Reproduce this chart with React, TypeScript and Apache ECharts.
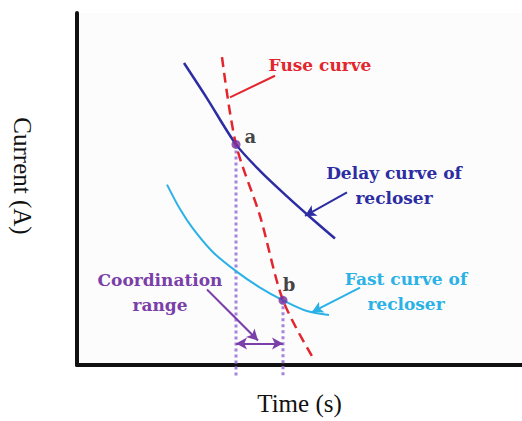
import React, { useEffect, useRef } from "react";
import * as echarts from "echarts";

// Schematic coordinates (time on x, current on y)
const delayCurve = [[107, 308], [130, 272], [159, 225], [183, 198], [210, 172], [233, 151], [258, 129]];
const fastCurve = [[90, 184], [103, 159], [116, 139], [136, 115], [160, 95], [183, 79], [206, 66], [230, 55], [252, 51]];
const fuseCurve = [[145, 314], [159, 225], [183, 152], [206, 66], [235, 9]];
const pointA = [159, 225];
const pointB = [206, 66];
const dropA = [[159, 225], [159, -13]];
const dropB = [[206, 66], [206, -13]];
const rangeArrow = [[159, 22], [206, 22]];
const fusePointer = [[198, 295], [153, 273]];
const delayPointer = [[270, 176], [228, 152]];
const fastPointer = [[283, 79], [235, 54]];
const coordPointer = [[130, 77], [181, 25]];
const xRange = [0, 445];
const yRange = [0, 359];
const axisNames = ["Time (s)", "Current (A)"];
const labels = ["Fuse curve", "Delay curve of\nrecloser", "Fast curve of\nrecloser", "Coordination\nrange"];

const RED = "#e3262d";
const BLUE = "#2d2da3";
const CYAN = "#2ab2e6";
const PURPLE = "#7a3fa8";
const DOT = "#a584dc";
const SERIF = "Liberation Serif";
const BOLD_SERIF = "DejaVu Serif";

function pointer(name: string, pts: number[][], color: string, both = false, head = true) {
  return {
    name,
    type: "line",
    data: [],
    silent: true,
    markLine: {
      silent: true,
      animation: false,
      label: { show: false },
      symbolSize: [9, 11],
      lineStyle: { color, width: 2, type: "solid" },
      itemStyle: { color },
      emphasis: { disabled: true },
      data: [
        [
          { coord: pts[0], symbol: both ? "arrow" : "none" },
          { coord: pts[1], symbol: head ? "arrow" : "none" },
        ],
      ],
    },
  };
}

function note(text: string, x: number, y: number, fill: string) {
  return {
    type: "text",
    x,
    y,
    silent: true,
    style: {
      text,
      fill,
      fontFamily: BOLD_SERIF,
      fontWeight: "bold",
      fontSize: 17,
      lineHeight: 25,
      align: "center",
      verticalAlign: "middle",
    },
  };
}

export default function App() {
  const ref = useRef<HTMLDivElement>(null);
  useEffect(() => {
    if (!ref.current) return;
    const chart = echarts.init(ref.current, undefined, { renderer: "svg" });
    chart.setOption({
      animation: false,
      backgroundColor: "#ffffff",
      grid: { left: 77, right: 0, top: 13, bottom: 49, show: true, backgroundColor: "#fcfcfc", borderWidth: 0 },
      xAxis: {
        type: "value",
        min: xRange[0],
        max: xRange[1],
        name: axisNames[0],
        nameLocation: "middle",
        nameGap: 26,
        nameTextStyle: { fontFamily: SERIF, fontSize: 25, color: "#111" },
        axisLine: { show: true, lineStyle: { color: "#111", width: 4 } },
        axisTick: { show: false },
        axisLabel: { show: false },
        splitLine: { show: false },
      },
      yAxis: {
        type: "value",
        min: yRange[0],
        max: yRange[1],
        name: axisNames[1],
        nameLocation: "middle",
        nameRotate: -90,
        nameGap: 42,
        nameTextStyle: { fontFamily: SERIF, fontSize: 25, color: "#111", padding: [0, 26, 0, 0] },
        axisLine: { show: true, lineStyle: { color: "#111", width: 4 } },
        axisTick: { show: false },
        axisLabel: { show: false },
        splitLine: { show: false },
      },
      series: [
        {
          name: "drop a",
          type: "line",
          data: dropA,
          clip: false,
          showSymbol: false,
          lineStyle: { color: DOT, width: 3, type: [3, 3] },
          z: 1,
        },
        {
          name: "drop b",
          type: "line",
          data: dropB,
          clip: false,
          showSymbol: false,
          lineStyle: { color: DOT, width: 3, type: [3, 3] },
          z: 1,
        },
        {
          name: "Delay curve",
          type: "line",
          data: delayCurve,
          smooth: 0.3,
          showSymbol: false,
          lineStyle: { color: BLUE, width: 2.5 },
          z: 2,
        },
        {
          name: "Fast curve",
          type: "line",
          data: fastCurve,
          smooth: 0.3,
          showSymbol: false,
          lineStyle: { color: CYAN, width: 2 },
          z: 2,
        },
        {
          name: "Fuse curve",
          type: "line",
          data: fuseCurve,
          smooth: 0.3,
          showSymbol: false,
          clip: false,
          lineStyle: { color: RED, width: 2.5, type: [10, 6] },
          z: 3,
        },
        pointer("fuse pointer", fusePointer, RED, false, false),
        pointer("delay pointer", delayPointer, BLUE),
        pointer("fast pointer", fastPointer, CYAN),
        pointer("coord pointer", coordPointer, PURPLE),
        pointer("range", rangeArrow, PURPLE, true, true),
        {
          name: "points",
          type: "scatter",
          symbolSize: 9,
          itemStyle: { color: "#7030a0" },
          z: 5,
          label: {
            show: true,
            formatter: "{b}",
            color: "#111",
            fontFamily: BOLD_SERIF,
            fontWeight: "bold",
            fontSize: 18,
          },
          data: [
            { name: "a", value: pointA, label: { position: "right", distance: 4, offset: [0, -8] } },
            { name: "b", value: pointB, label: { position: "top", distance: 2, offset: [6, 0] } },
          ],
        },
      ],
      graphic: [
        note(labels[0], 320, 65, RED),
        note(labels[1], 394, 185, BLUE),
        note(labels[2], 406, 291, CYAN),
        note(labels[3], 160, 292, PURPLE),
      ],
    });
    return () => chart.dispose();
  }, []);
  return <div ref={ref} style={{ width: 522, height: 421, position: "absolute", left: 0, top: 0 }} />;
}
